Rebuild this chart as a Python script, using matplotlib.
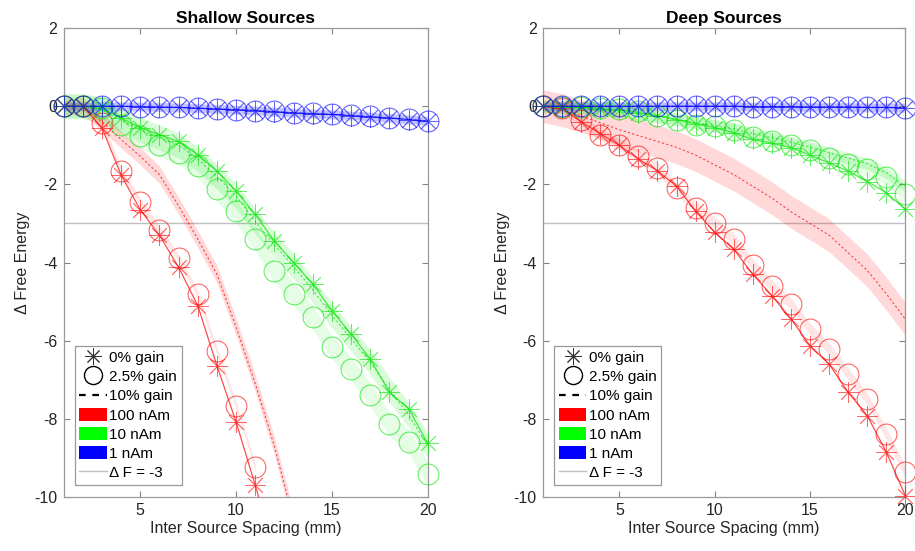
import numpy as np
import matplotlib
matplotlib.use('Agg')
import matplotlib.pyplot as plt
from matplotlib.lines import Line2D
from matplotlib.patches import Patch

plt.rcParams['font.family'] = ['Liberation Sans', 'DejaVu Sans']
plt.rcParams['axes.unicode_minus'] = False

nan = np.nan
spacing = [1, 2, 3, 4, 5, 6, 7, 8, 9, 10, 11, 12, 13, 14, 15, 16, 17, 18, 19, 20]

# shallow sources
sh_red_0 = [0, 0, -0.55, -1.76, -2.65, -3.3, -4.12, -5.1, -6.64, -8.08, -9.7, -11.4,
            nan, nan, nan, nan, nan, nan, nan, nan]
sh_red_25 = [0, 0, -0.43, -1.66, -2.44, -3.17, -3.88, -4.81, -6.26, -7.66, -9.23, nan,
             nan, nan, nan, nan, nan, nan, nan, nan]
sh_red_10 = [0, 0, -0.4, -0.85, -1.28, -1.75, -2.55, -3.4, -4.3, -5.65, -7.1, -8.7,
             -10.6, nan, nan, nan, nan, nan, nan, nan]
sh_green_0 = [0, 0, -0.05, -0.3, -0.55, -0.73, -0.9, -1.24, -1.66, -2.17, -2.77, -3.45,
              -4.0, -4.55, -5.23, -5.83, -6.47, -7.32, -7.74, -8.63]
sh_green_25 = [0, 0, -0.05, -0.47, -0.77, -0.99, -1.2, -1.54, -2.13, -2.68, -3.4, -4.21,
               -4.81, -5.4, -6.17, -6.72, -7.38, -8.13, -8.58, -9.4]
sh_green_10 = [0, 0, -0.1, -0.35, -0.6, -0.8, -1.0, -1.35, -1.8, -2.3, -2.95, -3.55,
               -4.1, -4.7, -5.35, -5.95, -6.55, -7.25, -7.9, -8.68]
sh_blue_0 = [0, 0, 0, 0, -0.01, -0.02, -0.03, -0.05, -0.07, -0.09, -0.11, -0.14,
             -0.17, -0.19, -0.21, -0.24, -0.27, -0.3, -0.34, -0.38]
sh_blue_25 = [0, 0, 0, 0, -0.01, -0.02, -0.03, -0.05, -0.07, -0.09, -0.11, -0.13,
              -0.16, -0.18, -0.2, -0.23, -0.26, -0.29, -0.33, -0.37]
sh_blue_10 = [0, 0, 0, 0, -0.01, -0.02, -0.03, -0.05, -0.07, -0.09, -0.11, -0.14,
              -0.17, -0.19, -0.21, -0.24, -0.27, -0.3, -0.34, -0.38]

# deep sources
dp_red_0 = [0, -0.05, -0.4, -0.7, -1.0, -1.35, -1.65, -2.05, -2.68, -3.23, -3.66, -4.3,
            -4.85, -5.44, -6.13, -6.6, -7.32, -7.92, -8.85, -9.97]
dp_red_25 = [0, -0.04, -0.34, -0.73, -0.98, -1.28, -1.58, -2.1, -2.6, -2.98, -3.4, -4.06,
             -4.6, -5.06, -5.7, -6.21, -6.85, -7.49, -8.38, -9.36]
dp_red_10 = [0, -0.1, -0.25, -0.42, -0.6, -0.75, -0.9, -1.05, -1.25, -1.5, -1.75, -2.05,
             -2.35, -2.7, -3.0, -3.3, -3.75, -4.2, -4.8, -5.45]
dp_green_0 = [0, -0.02, -0.03, -0.06, -0.1, -0.16, -0.24, -0.35, -0.45, -0.55, -0.68, -0.85,
              -0.95, -1.06, -1.25, -1.45, -1.66, -1.93, -2.21, -2.64]
dp_green_25 = [0, -0.02, -0.03, -0.05, -0.08, -0.13, -0.26, -0.34, -0.47, -0.5, -0.6, -0.78,
               -0.88, -0.98, -1.12, -1.32, -1.47, -1.6, -1.82, -2.25]
dp_green_10 = [0, -0.02, -0.05, -0.1, -0.15, -0.2, -0.27, -0.33, -0.42, -0.5, -0.58, -0.7,
               -0.8, -0.92, -1.05, -1.19, -1.33, -1.47, -1.7, -2.05]
dp_blue_0 = [0, 0, 0, 0, 0, 0, 0, 0, 0, 0, 0, -0.01,
             -0.01, -0.01, -0.02, -0.02, -0.02, -0.03, -0.03, -0.04]
dp_blue_25 = [0, 0, 0, 0, 0, 0, 0, 0, 0, 0, 0, -0.01,
              -0.01, -0.01, -0.02, -0.02, -0.02, -0.03, -0.03, -0.04]
dp_blue_10 = [0, 0, 0, 0, 0, 0, 0, 0, 0, 0, 0, -0.01,
              -0.01, -0.01, -0.02, -0.02, -0.02, -0.03, -0.03, -0.04]

# half widths of the shaded bands (10% gain, 2.5% gain)
sh_band = {'red': (0.22, 0.1), 'green': (0.32, 0.3), 'blue': (0.12, 0.1)}
dp_band = {'red': (0.42, 0.15), 'green': (0.15, 0.18), 'blue': (0.12, 0.1)}

colors = {'red': (1, 0, 0), 'green': (0, 0.9, 0), 'blue': (0, 0, 1)}
star = (8, 2, 0)
threshold = -3


def draw_panel(ax, series, bands, title):
    x = np.array(spacing)
    ax.axhline(threshold, color='0.75', lw=1, zorder=1)
    for name, (s0, s25, s10) in series.items():
        c = colors[name]
        s0, s25, s10 = np.array(s0), np.array(s25), np.array(s10)
        w10, w25 = bands[name]
        ax.fill_between(x, s10 - w10, s10 + w10, color=c, alpha=0.15, lw=0, zorder=1)
        ax.fill_between(x, s25 - w25, s25 + w25, color=c, alpha=0.1, lw=0, zorder=1)
        ax.plot(x, s10, color=c, alpha=0.7, lw=0.8, dashes=(2, 2), zorder=2)
        ax.plot(x, s0, color=c, alpha=0.7, lw=0.9, zorder=2)
        vis0 = np.where(s0 >= -10, s0, nan)
        vis25 = np.where(s25 >= -10, s25, nan)
        ax.plot(x, vis0, ls='none', marker=star, ms=15, mew=0.6, color=c, alpha=0.6,
                clip_on=False, zorder=3)
        ax.plot(x, vis25, ls='none', marker='o', ms=15, mew=0.8, mfc='none', mec=c,
                alpha=0.6, clip_on=False, zorder=3)

    ax.set_xlim(1, 20)
    ax.set_ylim(-10, 2)
    ax.set_xticks([5, 10, 15, 20])
    ax.set_yticks([-10, -8, -6, -4, -2, 0, 2])
    ax.tick_params(direction='in', top=True, right=True, length=4, width=0.8,
                   color='0.5', labelsize=11.5, labelcolor='0.15', pad=4.5)
    for sp in ax.spines.values():
        sp.set_color('0.6')
        sp.set_linewidth(0.9)
    ax.set_title(title, fontsize=12.5, fontweight='bold', pad=4)
    ax.set_xlabel('Inter Source Spacing (mm)', fontsize=11.5, color='0.15', labelpad=2)
    ax.set_ylabel('Δ Free Energy', fontsize=11.5, color='0.15', labelpad=3)

    handles = [
        Line2D([], [], ls='none', marker=star, ms=12, mew=0.7, color='0.2'),
        Line2D([], [], ls='none', marker='o', ms=13, mew=1.0, mfc='none', mec='k'),
        Line2D([], [], color='k', lw=1.6, dashes=(3, 3)),
        Patch(facecolor=(1, 0, 0), edgecolor='none'),
        Patch(facecolor=(0, 1, 0), edgecolor='none'),
        Patch(facecolor=(0, 0, 1), edgecolor='none'),
        Line2D([], [], color='0.75', lw=1),
    ]
    labels = ['0% gain', '2.5% gain', '10% gain', '100 nAm', '10 nAm', '1 nAm', 'Δ F = -3']
    leg = ax.legend(handles, labels, loc='lower left', bbox_to_anchor=(0.031, 0.026),
                    borderaxespad=0, fontsize=11, fancybox=False, framealpha=1,
                    edgecolor='0.6', handlelength=1.8, handleheight=0.9,
                    handletextpad=0.15, labelspacing=0.3, borderpad=0.3)
    leg.get_frame().set_linewidth(0.9)
    leg.set_zorder(5)


fig = plt.figure(figsize=(9.15, 5.51), dpi=100)
ax1 = fig.add_axes([0.0695, 0.098, 0.398, 0.851])
ax2 = fig.add_axes([0.5935, 0.098, 0.396, 0.851])

draw_panel(ax1, {'red': (sh_red_0, sh_red_25, sh_red_10),
                 'green': (sh_green_0, sh_green_25, sh_green_10),
                 'blue': (sh_blue_0, sh_blue_25, sh_blue_10)},
           sh_band, 'Shallow Sources')
draw_panel(ax2, {'red': (dp_red_0, dp_red_25, dp_red_10),
                 'green': (dp_green_0, dp_green_25, dp_green_10),
                 'blue': (dp_blue_0, dp_blue_25, dp_blue_10)},
           dp_band, 'Deep Sources')

fig.savefig('out.png', dpi=100)
